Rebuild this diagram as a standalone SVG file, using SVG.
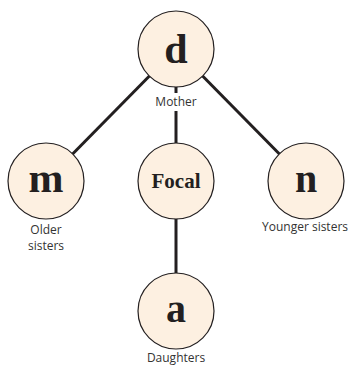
<svg xmlns="http://www.w3.org/2000/svg" width="349" height="369" viewBox="0 0 349 369">
<style>
.edge{stroke:#231f20;stroke-width:3;fill:none}
.node circle{fill:#fdf0e1;stroke:#231f20;stroke-width:1.2}
.sym{font-family:"Liberation Serif",serif;font-weight:bold;fill:#231f20;text-anchor:middle}
.lab{font-family:"Open Sans","Liberation Sans",sans-serif;font-size:12px;fill:#333;text-anchor:middle}
</style>
<rect width="349" height="369" fill="#fff"/>
<g id="connectors">
<line class="edge" x1="176" y1="49" x2="46" y2="181"/>
<line class="edge" x1="176" y1="49" x2="306" y2="181"/>
<line class="edge" x1="176" y1="49" x2="176" y2="93"/>
<line class="edge" x1="176" y1="111" x2="176" y2="181"/>
<line class="edge" x1="176" y1="181" x2="176" y2="311"/>
</g>
<g id="node-d" class="node">
<circle cx="176" cy="49" r="38"/>
<text class="sym" x="176" y="63" font-size="42">d</text>
<text class="lab" x="176" y="106">Mother</text>
</g>
<g id="node-m" class="node">
<circle cx="46" cy="181" r="38"/>
<text class="sym" x="46" y="192" font-size="42">m</text>
<text class="lab" x="46" y="234">Older</text>
<text class="lab" x="46" y="250">sisters</text>
</g>
<g id="node-focal" class="node">
<circle cx="176" cy="181" r="38"/>
<text class="sym" x="176" y="188" font-size="21">Focal</text>
</g>
<g id="node-n" class="node">
<circle cx="306" cy="181" r="38"/>
<text class="sym" x="306" y="192" font-size="40">n</text>
<text class="lab" x="305" y="231">Younger sisters</text>
</g>
<g id="node-a" class="node">
<circle cx="176" cy="311" r="38"/>
<text class="sym" x="176" y="322" font-size="40">a</text>
<text class="lab" x="176" y="362">Daughters</text>
</g>
</svg>
